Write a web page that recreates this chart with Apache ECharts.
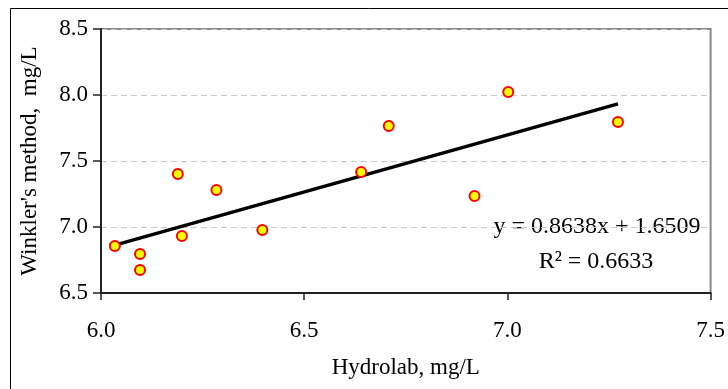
<!DOCTYPE html>
<html>
<head>
<meta charset="utf-8">
<script src="https://cdn.jsdelivr.net/npm/echarts@6/dist/echarts.min.js"></script>
<style>
  html, body { margin: 0; padding: 0; background: #fff; }
  #chart { width: 728px; height: 389px; }
</style>
</head>
<body>
<div id="chart"></div>
<script>
// 数据：Hydrolab 与 Winkler 法对比
var hydrolab = [6.034, 6.096, 6.096, 6.189, 6.199, 6.284, 6.397, 6.640, 6.708, 6.919, 7.002, 7.272]
var winkler  = [6.856, 6.795, 6.674, 7.402, 6.932, 7.280, 6.977, 7.417, 7.765, 7.235, 8.023, 7.795]
// 趋势线两端
var trendX = [6.034, 7.272]
var trendY = [6.863, 7.933]
var xTicks = [6.0, 6.5, 7.0, 7.5]
var yTicks = [6.5, 7.0, 7.5, 8.0, 8.5]
var eqText = 'y = 0.8638x + 1.6509'
var r2Text = 'R² = 0.6633'

var FONT = '"Liberation Serif", "DejaVu Serif", serif'

var points = hydrolab.map(function (x, i) { return [x, winkler[i]] })
var trend = trendX.map(function (x, i) { return [x, trendY[i]] })

var chart = echarts.init(document.getElementById('chart'))
var option = {
  backgroundColor: '#fff',
  animation: false,
  grid: { left: 101, top: 29, right: 14, bottom: 96, show: true, borderColor: '#888', borderWidth: 2 },
  xAxis: {
    type: 'value',
    min: xTicks[0], max: xTicks[xTicks.length - 1], interval: 0.5,
    name: 'Hydrolab, mg/L', nameLocation: 'middle', nameGap: 63,
    nameTextStyle: { fontFamily: FONT, fontSize: 23, color: '#000' },
    axisLine: { show: true, onZero: false, lineStyle: { color: '#222', width: 2 } },
    axisTick: { show: true, length: 7, lineStyle: { color: '#222', width: 1.5 } },
    axisLabel: { margin: 26, fontFamily: FONT, fontSize: 23, color: '#000',
      formatter: function (v) { return v.toFixed(1) } },
    splitLine: { show: false }
  },
  yAxis: {
    type: 'value',
    min: yTicks[0], max: yTicks[yTicks.length - 1], interval: 0.5,
    name: "Winkler's method,  mg/L", nameLocation: 'middle', nameGap: 60,
    nameTextStyle: { fontFamily: FONT, fontSize: 23, color: '#000' },
    axisLine: { show: true, onZero: false, lineStyle: { color: '#222', width: 2 } },
    axisTick: { show: true, length: 8, lineStyle: { color: '#222', width: 1.5 } },
    axisLabel: { margin: 13, fontFamily: FONT, fontSize: 23, color: '#000',
      formatter: function (v) { return v.toFixed(1) } },
    splitLine: { show: true, lineStyle: { color: '#c8c8c8', type: [6, 4], width: 1 } }
  },
  series: [
    {
      type: 'line',
      data: trend,
      symbol: 'none',
      lineStyle: { color: '#000', width: 3.5 },
      z: 2
    },
    {
      type: 'scatter',
      data: points,
      symbol: 'circle',
      symbolSize: 10,
      itemStyle: { color: '#ffff00', borderColor: '#ff0000', borderWidth: 2, opacity: 1 },
      z: 3
    }
  ],
  graphic: [
    { type: 'rect', left: 8, top: 6, z: -10, silent: true,
      shape: { width: 718, height: 381 },
      style: { fill: 'none', stroke: '#000', lineWidth: 1 } },
    { type: 'text', x: 597, y: 227, silent: true,
      style: { text: eqText, fontFamily: FONT, fontSize: 24, fill: '#000', align: 'center', verticalAlign: 'middle' } },
    { type: 'text', x: 596, y: 262, silent: true,
      style: { text: r2Text, fontFamily: FONT, fontSize: 24, fill: '#000', align: 'center', verticalAlign: 'middle' } }
  ]
}
chart.setOption(option)
</script>
</body>
</html>
